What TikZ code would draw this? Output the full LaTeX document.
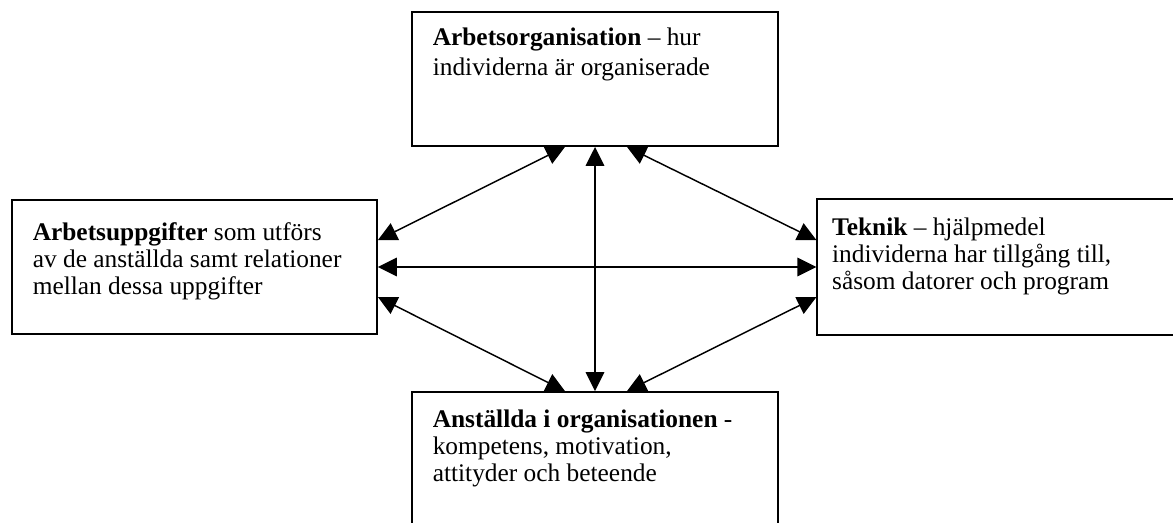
\documentclass[tikz,border=0pt]{standalone}
\usepackage{fontspec}
\setmainfont{Liberation Serif}
\usetikzlibrary{arrows.meta}

\begin{document}
\begin{tikzpicture}[x=0.018cm,y=-0.018cm,<->,>={Triangle[length=9.7pt,width=9.5pt]},line width=0.75pt]
\tikzset{frame/.style={draw,line width=1pt,inner sep=0pt,minimum height=2.412cm}}
\tikzset{lbl/.style={anchor=north west,inner sep=0pt,align=left,font=\fontsize{13}{13.9}\selectfont}}
\useasboundingbox (0,0) rectangle (1173,523);
\node[frame,minimum width=6.588cm] at (595,79) (org) {};
\node[lbl,font=\fontsize{13}{15.4}\selectfont] at ([xshift=10.75pt,yshift=-8.2pt]org.north west) (orgtxt) {\textbf{Arbetsorganisation} – hur\\individerna är organiserade};
\node[frame,minimum width=6.57cm] at (194.5,267) (task) {};
\node[lbl] at ([xshift=10.75pt,yshift=-11.8pt]task.north west) (tasktxt) {\textbf{Arbetsuppgifter} som utförs\\av de anställda samt relationer\\mellan dessa uppgifter};
\node[frame,minimum width=6.9cm,minimum height=2.448cm] at (1009,267) (tech) {};
\node[lbl] at ([xshift=7.7pt,yshift=-9.7pt]tech.north west) (techtxt) {\textbf{Teknik} – hjälpmedel\\individerna har tillgång till,\\såsom datorer och program};
\node[frame,minimum width=6.588cm,minimum height=2.52cm] at (595,462) (staff) {};
\node[lbl] at ([xshift=10.75pt,yshift=-9.2pt]staff.north west) (stafftxt) {\textbf{Anställda i organisationen} -\\kompetens, motivation,\\attityder och beteende};
% pilar mellan rutorna
\draw (org.south) -- (staff.north);
\draw (task.east) -- (tech.west);
\draw ([yshift=13.8pt]task.east) -- ([xshift=-15.4pt]org.south);
\draw ([yshift=13.8pt]tech.west) -- ([xshift=16.4pt]org.south);
\draw ([yshift=-15.4pt]task.east) -- ([xshift=-15.4pt]staff.north);
\draw ([yshift=-15.4pt]tech.west) -- ([xshift=16.4pt]staff.north);
\end{tikzpicture}
\end{document}
